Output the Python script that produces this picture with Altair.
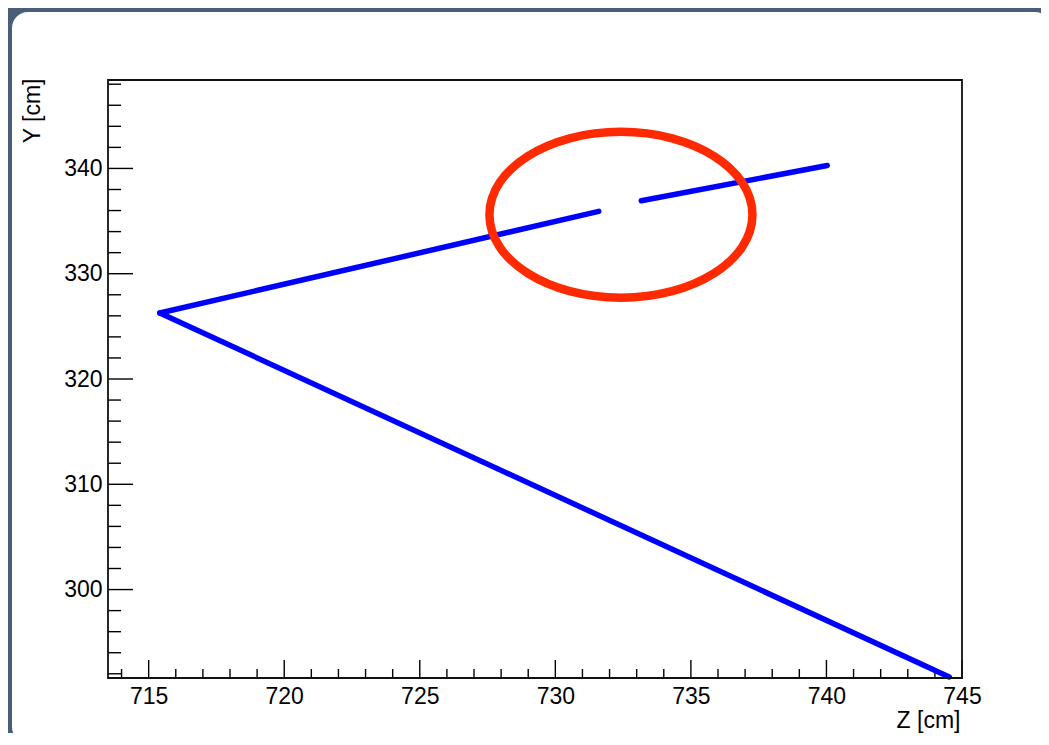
import altair as alt
import pandas as pd

# ---- data ----
track_id = ["a", "a", "b", "b", "c", "c"]
track_z = [715.41, 744.53, 715.41, 731.60, 733.17, 740.03]
track_y = [326.27, 291.70, 326.27, 335.92, 336.93, 340.28]

ellipse_z = [732.42]
ellipse_y = [335.6]

x_major = [715, 720, 725, 730, 735, 740, 745]
x_minor = [714, 716, 717, 718, 719, 721, 722, 723, 724, 726, 727, 728, 729,
           731, 732, 733, 734, 736, 737, 738, 739, 741, 742, 743, 744]
y_major = [300, 310, 320, 330, 340]
y_minor = [292, 294, 296, 298, 302, 304, 306, 308, 312, 314, 316, 318,
           322, 324, 326, 328, 332, 334, 336, 338, 342, 344, 346, 348]

W, H = 854, 598
PAD = {"left": 100, "top": 72, "right": 79, "bottom": 55}
FONT = "Liberation Sans"

xscale = alt.Scale(domain=[713.5, 745.0], nice=False, zero=False)
yscale = alt.Scale(domain=[291.6, 348.4], nice=False, zero=False)

xaxis = alt.Axis(values=x_major, ticks=False, tickSize=0, domain=False, grid=False, zindex=2,
                 labelFont=FONT, labelFontSize=23, labelColor="black", labelPadding=7,
                 labelFlush=False, labelOverlap=False, format="d",
                 title="Z [cm]", titleFont=FONT, titleFontSize=23, titleFontWeight="normal",
                 titleColor="black", titleX=852, titleY=49, titleAlign="right",
                 titleBaseline="alphabetic")
yaxis = alt.Axis(values=y_major, ticks=False, tickSize=0, domain=False, grid=False, zindex=2,
                 labelFont=FONT, labelFontSize=23, labelColor="black", labelPadding=6,
                 labelFlush=False, labelOverlap=False, format="d",
                 title="Y [cm]", titleFont=FONT, titleFontSize=23, titleFontWeight="normal",
                 titleColor="black", titleX=-76, titleY=-2, titleAngle=270,
                 titleAlign="right", titleBaseline="middle")

X = lambda: alt.X("z:Q", scale=xscale, axis=xaxis)
Y = lambda: alt.Y("y:Q", scale=yscale, axis=yaxis)

tracks = pd.DataFrame({"track": track_id, "z": track_z, "y": track_y})
ell = pd.DataFrame({"z": ellipse_z, "y": ellipse_y})
xmaj = pd.DataFrame({"z": x_major})
xmin = pd.DataFrame({"z": x_minor})
ymaj = pd.DataFrame({"y": y_major})
ymin = pd.DataFrame({"y": y_minor})
one = pd.DataFrame({"k": [0]})

panel = alt.Chart(one).mark_rect(fill="white", cornerRadius=16).encode(
    x=alt.value(-96), x2=alt.value(W + PAD["right"] + 10),
    y=alt.value(-68), y2=alt.value(H + PAD["bottom"] + 10))

xt_major = alt.Chart(xmaj).mark_rule(color="black", strokeWidth=1.4).encode(
    x=X(), y=alt.value(H - 18), y2=alt.value(H))
xt_minor = alt.Chart(xmin).mark_rule(color="black", strokeWidth=1.4).encode(
    x=X(), y=alt.value(H - 9), y2=alt.value(H))
yt_major = alt.Chart(ymaj).mark_rule(color="black", strokeWidth=1.4).encode(
    y=Y(), x=alt.value(0), x2=alt.value(25))
yt_minor = alt.Chart(ymin).mark_rule(color="black", strokeWidth=1.4).encode(
    y=Y(), x=alt.value(0), x2=alt.value(13))

lines = alt.Chart(tracks).mark_line(color="#0000FF", strokeWidth=5.5, strokeCap="round").encode(
    x=X(), y=Y(), detail="track:N")

k = 0.5523
r = 0.631
kr = round(k * r, 4)
ell_path = (f"M -1 0 C -1 {-kr} {-k} {-r} 0 {-r} "
            f"C {k} {-r} 1 {-kr} 1 0 "
            f"C 1 {kr} {k} {r} 0 {r} "
            f"C {-k} {r} -1 {kr} -1 0 Z")
ellipse = alt.Chart(ell).mark_point(shape=ell_path, filled=False, stroke="#FF2A00",
                                    strokeWidth=8.5, size=263 * 263, opacity=1).encode(
    x=X(), y=Y())

frame = alt.Chart(one).mark_rect(filled=False, stroke="#111111", strokeWidth=1.8).encode(
    x=alt.value(0), x2=alt.value(W), y=alt.value(0), y2=alt.value(H))

chart = alt.layer(panel, xt_minor, xt_major, yt_minor, yt_major, lines, ellipse, frame).properties(
    width=W, height=H, background="#4B5E79", padding=PAD,
    autosize=alt.AutoSizeParams(type="none"),
).configure_view(stroke=None)

chart.save("out.html", embed_options={"renderer": "svg", "actions": False})
